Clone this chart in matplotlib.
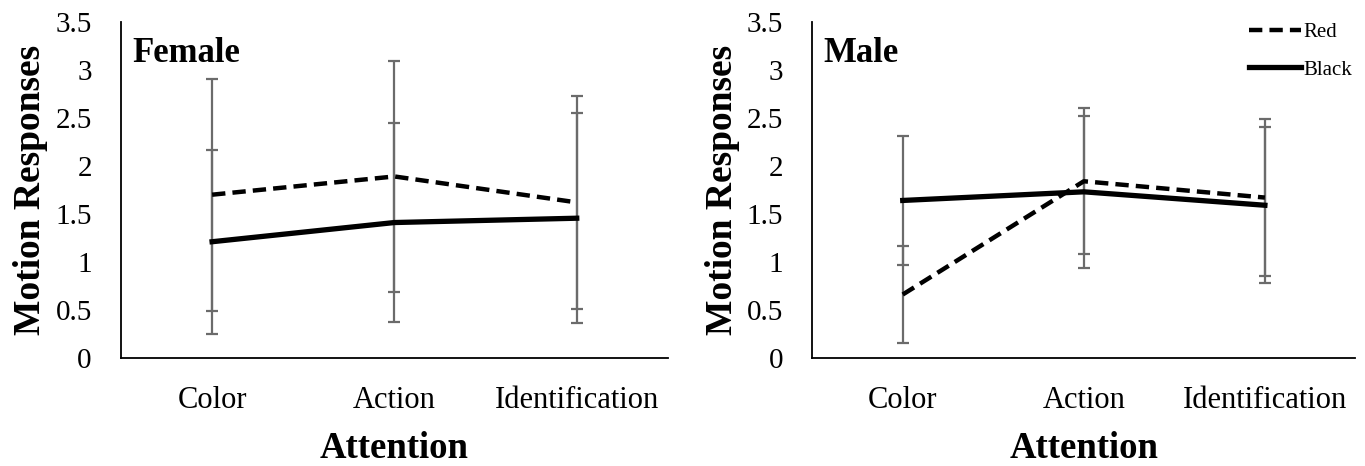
import matplotlib.pyplot as plt

plt.rcParams['font.family'] = ['Liberation Serif', 'DejaVu Serif']

# data
attention = ['Color', 'Action', 'Identification']
female_red = [1.70, 1.89, 1.62]
female_red_err = [1.21, 1.20, 1.11]
female_black = [1.21, 1.41, 1.455]
female_black_err = [0.96, 1.04, 1.095]
male_red = [0.66, 1.84, 1.67]
male_red_err = [0.51, 0.76, 0.82]
male_black = [1.64, 1.73, 1.59]
male_black_err = [0.67, 0.79, 0.81]
yticks = [0, 0.5, 1, 1.5, 2, 2.5, 3, 3.5]
ytick_labels = ['0', '0.5', '1', '1.5', '2', '2.5', '3', '3.5']

fig = plt.figure(figsize=(13.65, 4.66), dpi=100)
ax1 = fig.add_axes([0.0886, 0.232, 0.4007, 0.721])
ax2 = fig.add_axes([0.595, 0.232, 0.398, 0.721])

panels = [
    (ax1, 'Female', female_red, female_red_err, female_black, female_black_err),
    (ax2, 'Male', male_red, male_red_err, male_black, male_black_err),
]

x = range(len(attention))
for ax, title, red, red_err, black, black_err in panels:
    # error bars behind the lines
    ax.errorbar(x, red, yerr=red_err, fmt='none', ecolor='#6b6b6b',
                elinewidth=1.6, capsize=4.5, capthick=1.6, zorder=1)
    ax.errorbar(x, black, yerr=black_err, fmt='none', ecolor='#6b6b6b',
                elinewidth=1.6, capsize=4.5, capthick=1.6, zorder=1)
    ax.plot(x, red, color='black', lw=3.2, linestyle=(0, (3, 1.6)), label='Red', zorder=3)
    ax.plot(x, black, color='black', lw=3.8, label='Black', zorder=3)

    ax.set_xlim(-0.5, 2.5)
    ax.set_ylim(0, 3.5)
    ax.set_yticks(yticks)
    ax.set_yticklabels(ytick_labels)
    ax.set_xticks(list(x))
    ax.set_xticklabels(attention)
    ax.tick_params(axis='both', length=0)
    ax.tick_params(axis='y', pad=21, labelsize=21)
    ax.tick_params(axis='x', pad=20, labelsize=22)
    for side in ['top', 'right']:
        ax.spines[side].set_visible(False)
    ax.spines['left'].set_linewidth(1.3)
    ax.spines['bottom'].set_linewidth(1.3)

    ax.set_xlabel('Attention', fontsize=26.5, fontweight='bold', labelpad=12)
    ax.set_ylabel('Motion Responses', fontsize=27, fontweight='bold', labelpad=5)
    ax.text(0.02, 0.955, title, transform=ax.transAxes, fontsize=25,
            fontweight='bold', va='top', ha='left')

ax2.legend(loc='upper right', bbox_to_anchor=(0.997, 0.969), bbox_transform=fig.transFigure,
           frameon=False, fontsize=15, handlelength=2.5, handletextpad=0.12,
           labelspacing=0.85, borderaxespad=0)

fig.savefig('out.png', dpi=100)
